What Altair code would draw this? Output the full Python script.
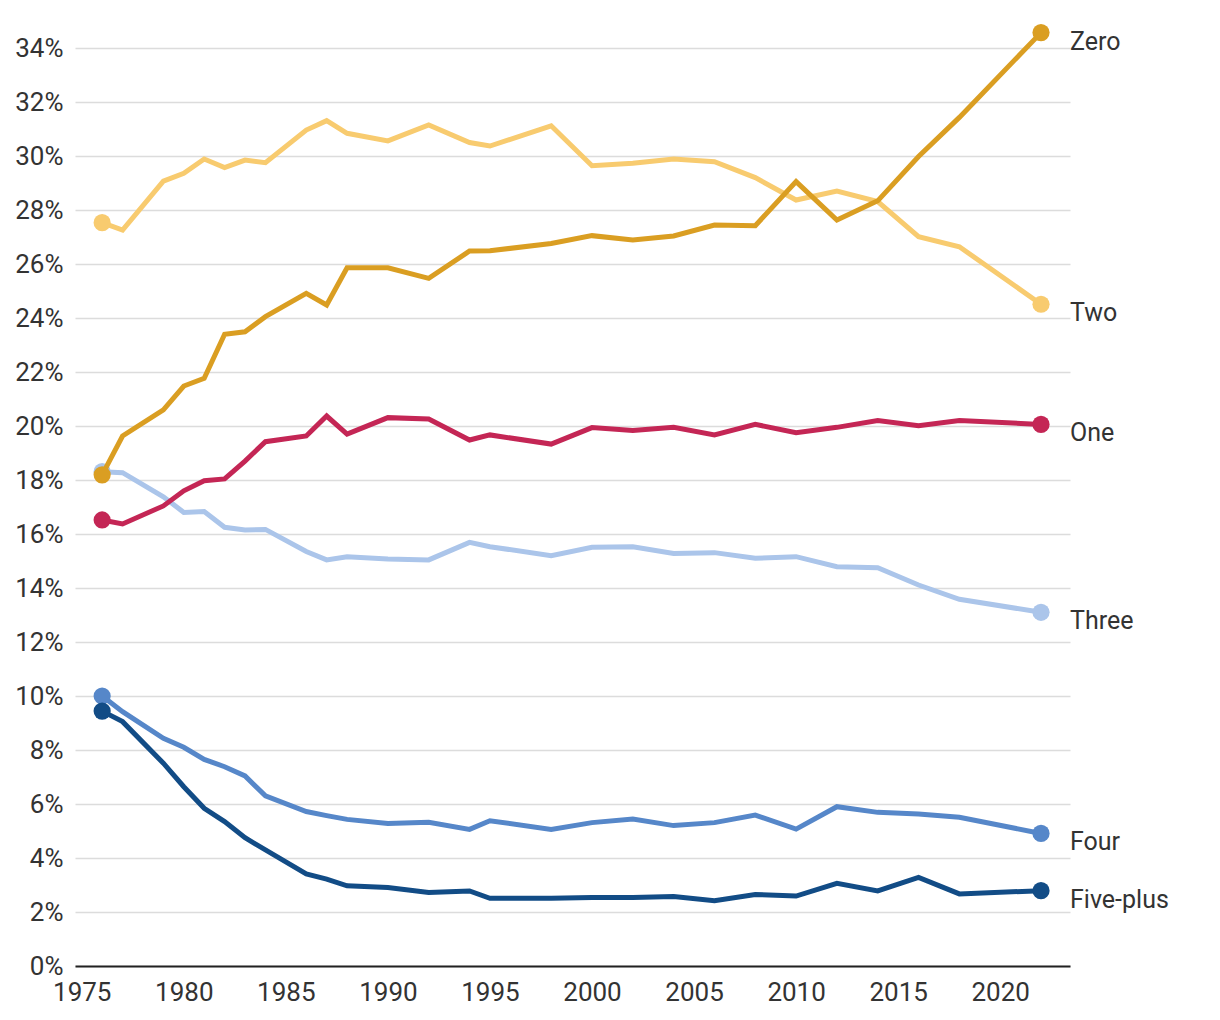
import altair as alt
import pandas as pd

years = [1976, 1977, 1979, 1980, 1981, 1982, 1983, 1984, 1986, 1987, 1988, 1990,
         1992, 1994, 1995, 1998, 2000, 2002, 2004, 2006, 2008, 2010, 2012, 2014,
         2016, 2018, 2022]

zero = [18.19, 19.63, 20.60, 21.48, 21.77, 23.40, 23.49, 24.05, 24.91, 24.48, 25.86, 25.86,
        25.47, 26.48, 26.49, 26.76, 27.05, 26.89, 27.04, 27.44, 27.42, 29.05, 27.63, 28.34,
        29.98, 31.43, 34.57]
one = [16.52, 16.37, 17.04, 17.60, 17.97, 18.04, 18.70, 19.42, 19.63, 20.37, 19.70, 20.31,
       20.26, 19.48, 19.67, 19.33, 19.94, 19.83, 19.95, 19.67, 20.06, 19.75, 19.95, 20.20,
       20.01, 20.20, 20.06]
two = [27.53, 27.26, 29.07, 29.36, 29.89, 29.57, 29.85, 29.75, 30.96, 31.31, 30.84, 30.56,
       31.15, 30.50, 30.37, 31.12, 29.64, 29.73, 29.89, 29.79, 29.20, 28.37, 28.70, 28.31,
       27.01, 26.64, 24.51]
three = [18.31, 18.27, 17.38, 16.80, 16.83, 16.25, 16.15, 16.17, 15.35, 15.04, 15.16, 15.07,
         15.04, 15.69, 15.53, 15.20, 15.51, 15.53, 15.28, 15.31, 15.10, 15.16, 14.79, 14.75,
         14.11, 13.58, 13.10]
four = [10.00, 9.42, 8.43, 8.10, 7.65, 7.38, 7.04, 6.30, 5.72, 5.57, 5.43, 5.28,
        5.32, 5.06, 5.38, 5.06, 5.31, 5.44, 5.20, 5.31, 5.59, 5.07, 5.90, 5.69,
        5.63, 5.51, 4.91]
five_plus = [9.44, 9.05, 7.51, 6.64, 5.84, 5.35, 4.75, 4.30, 3.41, 3.22, 2.97, 2.91,
             2.72, 2.78, 2.51, 2.51, 2.54, 2.54, 2.57, 2.42, 2.65, 2.59, 3.06, 2.78,
             3.28, 2.67, 2.79]

series_names = ["Two", "Three", "Four", "One", "Five-plus", "Zero"]
series_values = [two, three, four, one, five_plus, zero]
series_colors = ["#F8CB6F", "#ABC5EA", "#5687C9", "#C42655", "#124C86", "#DA9E22"]

y_ticks = list(range(0, 35, 2))
x_ticks = [1975, 1980, 1985, 1990, 1995, 2000, 2005, 2010, 2015, 2020]

rows = []
for name, vals in zip(series_names, series_values):
    for yr, v in zip(years, vals):
        rows.append({"series": name, "year": yr, "value": v})
df = pd.DataFrame(rows)

FONT = "Roboto"
TEXT = "#333333"

x_enc = alt.X("year:Q",
              scale=alt.Scale(domain=[1974.67, 2023.42], nice=False, zero=False),
              axis=alt.Axis(values=x_ticks, format="d", title=None, grid=False,
                            ticks=False, domain=True, domainColor="#222222",
                            domainWidth=2, labelFontSize=26, labelColor=TEXT,
                            labelFont=FONT, labelPadding=13))
y_enc = alt.Y("value:Q",
              scale=alt.Scale(domain=[0, 34], nice=False),
              axis=alt.Axis(values=y_ticks, labelExpr="datum.value + '%'", title=None,
                            grid=True, gridColor="#DCDCDC", gridWidth=1.5,
                            ticks=False, domain=False, labelFontSize=26,
                            labelColor=TEXT, labelFont=FONT, labelPadding=12))

layers = []
for name, color in zip(series_names, series_colors):
    base = alt.Chart(df).transform_filter(alt.datum.series == name)
    line = base.mark_line(color=color, strokeWidth=5, strokeJoin="miter").encode(x=x_enc, y=y_enc)
    pts = base.transform_filter(
        (alt.datum.year == years[0]) | (alt.datum.year == years[-1])
    ).mark_point(filled=True, color=color, size=295, opacity=1).encode(x=x_enc, y=y_enc)
    layers += [line, pts]

labels = alt.Chart(df).transform_filter(alt.datum.year == years[-1]).mark_text(
    align="left", baseline="middle", dx=29, dy=9, fontSize=25, font=FONT, color=TEXT
).encode(x=x_enc, y=y_enc, text="series:N")
layers.append(labels)

chart = alt.layer(*layers).properties(
    width=995, height=918,
    autosize=alt.AutoSizeParams(type="none"),
    padding={"left": 67, "top": 40, "right": 140, "bottom": 50},
).configure_view(stroke=None)

chart.save("out.html", embed_options={"renderer": "svg", "actions": False})
